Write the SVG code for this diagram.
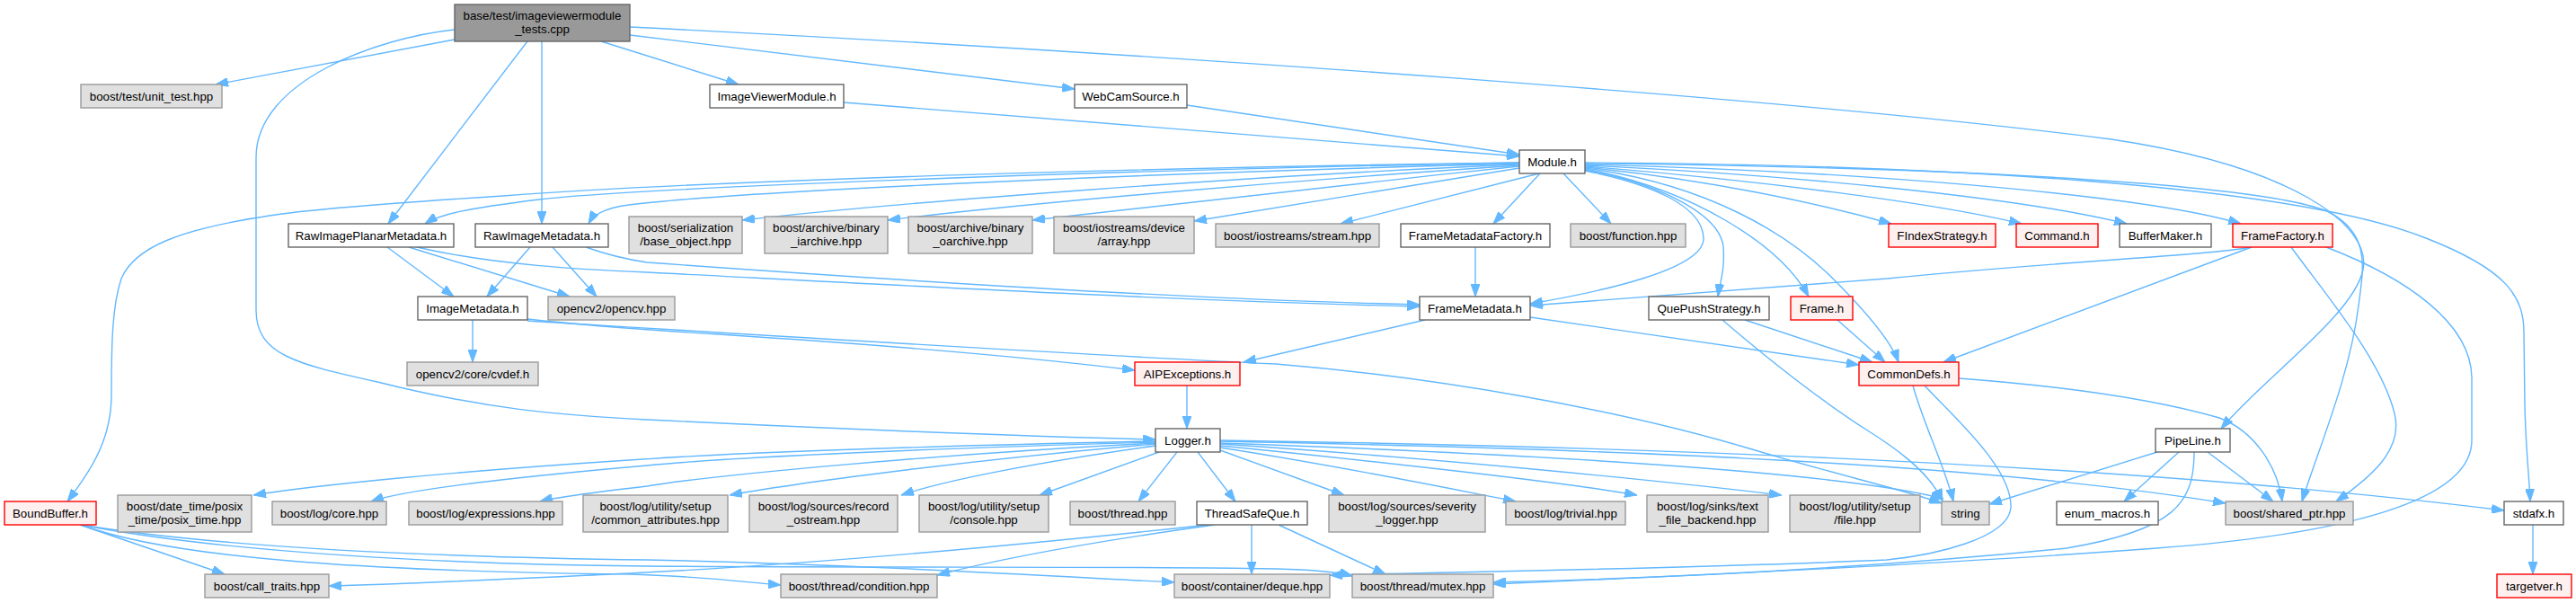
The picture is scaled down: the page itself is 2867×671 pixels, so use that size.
<svg xmlns="http://www.w3.org/2000/svg" width="2867" height="671" viewBox="0 0 2867 671">
<style>
rect{stroke-width:1.4}
.w{fill:#ffffff;stroke:#666666}
.g{fill:#e0e0e0;stroke:#999999}
.r{fill:#fff0f0;stroke:#ff0000}
.k{fill:#999999;stroke:#666666}
text{font-family:"Liberation Sans",Arial,sans-serif;font-size:13.3px;fill:#000;text-anchor:middle}
#edges path{fill:none;stroke:#63b8ff;stroke-width:1.4;marker-end:url(#ah)}
</style>
<defs>
<marker id="ah" markerUnits="userSpaceOnUse" markerWidth="14" markerHeight="10" viewBox="0 0 14 10" refX="14" refY="5" orient="auto">
<path d="M0,0 L14,5 L0,10 z" fill="#63b8ff" stroke="#63b8ff" stroke-width="1"/>
</marker>
</defs>
<rect x="0" y="0" width="2867" height="671" fill="#ffffff"/>
<g id="edges">
<path d="M506,44 L240,94"/>
<path d="M669,46 L822,94"/>
<path d="M701,39 L1196,99"/>
<path d="M587,46 L432,249"/>
<path d="M603,46 L603,249"/>
<path d="M506,33 C420,42 285,90 285,175 L285,345 C285,395 330,405 420,425 C540,455 620,462 720,467 C900,476 1150,486 1286,489"/>
<path d="M701,30 C1300,60 2000,110 2350,155 C2550,185 2640,250 2630,300 C2620,350 2520,420 2472,477"/>
<path d="M939,114 L1691,174"/>
<path d="M1321,117 L1691,172"/>
<path d="M1691,181 C1300,186 800,200 560,218 C450,225 350,232 300,240 C200,255 150,275 135,310 C125,340 124,380 124,440 C124,490 100,525 75,558"/>
<path d="M1691,181 C1200,190 700,210 600,222 C520,232 490,238 473,249"/>
<path d="M1691,182 C1200,195 800,215 700,228 C670,232 660,240 655,249"/>
<path d="M1691,183 C1400,195 1000,225 826,245"/>
<path d="M1691,184 C1450,200 1150,225 988,245"/>
<path d="M1691,185 C1500,205 1300,228 1149,245"/>
<path d="M1691,187 C1550,210 1420,232 1329,246"/>
<path d="M1713,193 L1492,249"/>
<path d="M1714,193 L1662,249"/>
<path d="M1740,193 L1793,249"/>
<path d="M1764,190 C1840,205 1895,230 1896,265 C1897,300 1780,325 1703,338"/>
<path d="M1764,189 C1850,205 1915,240 1918,275 C1920,300 1914,315 1912,330"/>
<path d="M1764,188 C1880,210 1980,270 2013,330"/>
<path d="M1764,187 C1900,205 1990,260 2040,310 C2080,350 2105,380 2113,403"/>
<path d="M1764,186 C1900,200 2020,225 2105,249"/>
<path d="M1764,185 C1950,200 2150,225 2250,249"/>
<path d="M1764,184 C2000,195 2250,220 2367,249"/>
<path d="M1764,183 C2050,190 2380,215 2494,249"/>
<path d="M1764,182 C2100,185 2500,200 2590,235 C2640,260 2630,300 2625,340 C2615,420 2580,500 2562,558"/>
<path d="M1764,181 C2150,183 2550,205 2700,265 C2790,300 2809,330 2809,370 L2810,450 C2811,500 2815,530 2816,558"/>
<path d="M2506,275 C2450,285 2300,290 2100,310 C1900,325 1780,333 1703,340"/>
<path d="M2506,275 L2163,403"/>
<path d="M2550,275 C2590,330 2650,400 2665,460 C2675,500 2640,530 2600,558"/>
<path d="M2589,275 C2680,310 2750,360 2751,420 L2751,490 C2751,560 2600,595 2400,610 C2200,625 1900,640 1662,650"/>
<path d="M2129,429 C2140,470 2165,520 2174,558"/>
<path d="M2180,421 C2300,430 2400,445 2470,465 C2510,480 2535,520 2540,558"/>
<path d="M2142,429 C2170,460 2240,520 2238,565 C2235,600 2150,618 2100,623 C1900,632 1650,636 1480,640"/>
<path d="M2401,503 L2214,561"/>
<path d="M2425,503 L2364,558"/>
<path d="M2457,503 L2530,558"/>
<path d="M2442,503 C2442,560 2420,590 2300,610 C2100,630 1900,642 1662,648"/>
<path d="M1942,356 L2084,403"/>
<path d="M1917,356 C1980,410 2030,448 2080,480 C2120,505 2150,530 2162,558"/>
<path d="M2045,356 L2098,403"/>
<path d="M1703,353 L2069,406"/>
<path d="M1586,356 L1384,403"/>
<path d="M1642,275 L1642,330"/>
<path d="M431,275 L505,330"/>
<path d="M455,275 L634,330"/>
<path d="M464,275 C550,295 650,300 720,303 C900,312 1300,335 1580,341"/>
<path d="M590,275 L542,330"/>
<path d="M615,275 L664,330"/>
<path d="M652,275 C680,285 700,289 720,292 C900,305 1300,333 1580,339"/>
<path d="M526,356 L526,403"/>
<path d="M587,355 C650,362 700,366 800,372 C1000,385 1150,398 1263,412"/>
<path d="M587,357 C800,370 1200,395 1420,405 C1600,420 1800,455 1950,500 C2050,530 2120,545 2161,560"/>
<path d="M1321,429 L1321,477"/>
<path d="M1286,491 C1000,497 800,505 700,512 C500,525 350,540 282,551"/>
<path d="M1286,492 C1000,500 800,510 720,518 C560,532 450,545 413,558"/>
<path d="M1286,493 C1050,505 800,528 720,541 C660,548 620,553 601,558"/>
<path d="M1286,494 C1100,510 900,535 812,551"/>
<path d="M1286,496 C1150,515 1050,535 1003,551"/>
<path d="M1290,503 L1157,551"/>
<path d="M1310,503 L1267,558"/>
<path d="M1333,503 L1375,558"/>
<path d="M1358,501 L1496,551"/>
<path d="M1358,498 C1500,520 1620,545 1687,558"/>
<path d="M1358,496 C1550,515 1750,538 1822,551"/>
<path d="M1358,494 C1600,510 1850,535 1983,551"/>
<path d="M1358,493 C1700,505 2050,525 2163,555"/>
<path d="M1358,491 C1800,500 2200,515 2477,560"/>
<path d="M1358,490 C1900,498 2400,520 2787,568"/>
<path d="M1352,584 C1200,605 1100,625 1043,640"/>
<path d="M1345,584 C1150,605 900,628 700,638 C550,645 450,650 366,652"/>
<path d="M1393,584 L1393,639"/>
<path d="M1423,584 L1542,639"/>
<path d="M89,584 C150,605 210,625 250,639"/>
<path d="M90,584 C200,625 450,636 700,639 C780,641 830,648 869,651"/>
<path d="M90,584 C250,610 500,620 720,623 C950,628 1150,640 1307,648"/>
<path d="M90,584 C250,615 500,628 720,630 C1000,632 1300,630 1420,633 C1460,634 1490,637 1505,641"/>
<path d="M2819,584 L2819,639"/>
</g>
<g id="n_root"><rect class="k" x="506" y="5" width="195" height="41"/><text x="603.5" y="22">base/test/imageviewermodule</text><text x="603.5" y="37">_tests.cpp</text></g>
<g id="n_unit_test"><rect class="g" x="90" y="94" width="157" height="26"/><text x="168.5" y="112">boost/test/unit_test.hpp</text></g>
<g id="n_imageviewermodule"><rect class="w" x="790" y="94" width="149" height="26"/><text x="864.5" y="112">ImageViewerModule.h</text></g>
<g id="n_webcamsource"><rect class="w" x="1196" y="94" width="125" height="26"/><text x="1258.5" y="112">WebCamSource.h</text></g>
<g id="n_module"><rect class="w" x="1691" y="167" width="73" height="26"/><text x="1727.5" y="185">Module.h</text></g>
<g id="n_rawimageplanar"><rect class="w" x="321" y="249" width="184" height="26"/><text x="413" y="267">RawImagePlanarMetadata.h</text></g>
<g id="n_rawimage"><rect class="w" x="529" y="249" width="148" height="26"/><text x="603" y="267">RawImageMetadata.h</text></g>
<g id="n_base_object"><rect class="g" x="700" y="241" width="126" height="41"/><text x="763" y="258">boost/serialization</text><text x="763" y="273">/base_object.hpp</text></g>
<g id="n_iarchive"><rect class="g" x="851" y="241" width="137" height="41"/><text x="919.5" y="258">boost/archive/binary</text><text x="919.5" y="273">_iarchive.hpp</text></g>
<g id="n_oarchive"><rect class="g" x="1011" y="241" width="138" height="41"/><text x="1080" y="258">boost/archive/binary</text><text x="1080" y="273">_oarchive.hpp</text></g>
<g id="n_array"><rect class="g" x="1173" y="241" width="156" height="41"/><text x="1251" y="258">boost/iostreams/device</text><text x="1251" y="273">/array.hpp</text></g>
<g id="n_stream"><rect class="g" x="1353" y="249" width="182" height="26"/><text x="1444" y="267">boost/iostreams/stream.hpp</text></g>
<g id="n_framemetadatafactory"><rect class="w" x="1559" y="249" width="166" height="26"/><text x="1642" y="267">FrameMetadataFactory.h</text></g>
<g id="n_function"><rect class="g" x="1748" y="249" width="128" height="26"/><text x="1812" y="267">boost/function.hpp</text></g>
<g id="n_findexstrategy"><rect class="r" x="2102" y="249" width="119" height="26"/><text x="2161.5" y="267">FIndexStrategy.h</text></g>
<g id="n_command"><rect class="r" x="2244" y="249" width="91" height="26"/><text x="2289.5" y="267">Command.h</text></g>
<g id="n_buffermaker"><rect class="w" x="2359" y="249" width="102" height="26"/><text x="2410" y="267">BufferMaker.h</text></g>
<g id="n_framefactory"><rect class="r" x="2485" y="249" width="111" height="26"/><text x="2540.5" y="267">FrameFactory.h</text></g>
<g id="n_imagemetadata"><rect class="w" x="465" y="330" width="122" height="26"/><text x="526" y="348">ImageMetadata.h</text></g>
<g id="n_opencv"><rect class="g" x="610" y="330" width="141" height="26"/><text x="680.5" y="348">opencv2/opencv.hpp</text></g>
<g id="n_framemetadata"><rect class="w" x="1580" y="330" width="123" height="26"/><text x="1641.5" y="348">FrameMetadata.h</text></g>
<g id="n_quepushstrategy"><rect class="w" x="1835" y="330" width="134" height="26"/><text x="1902" y="348">QuePushStrategy.h</text></g>
<g id="n_frame"><rect class="r" x="1993" y="330" width="69" height="26"/><text x="2027.5" y="348">Frame.h</text></g>
<g id="n_cvdef"><rect class="g" x="453" y="403" width="146" height="26"/><text x="526" y="421">opencv2/core/cvdef.h</text></g>
<g id="n_aipexceptions"><rect class="r" x="1263" y="403" width="117" height="26"/><text x="1321.5" y="421">AIPExceptions.h</text></g>
<g id="n_commondefs"><rect class="r" x="2069" y="403" width="111" height="26"/><text x="2124.5" y="421">CommonDefs.h</text></g>
<g id="n_logger"><rect class="w" x="1286" y="477" width="72" height="26"/><text x="1322" y="495">Logger.h</text></g>
<g id="n_pipeline"><rect class="w" x="2399" y="477" width="83" height="26"/><text x="2440.5" y="495">PipeLine.h</text></g>
<g id="n_boundbuffer"><rect class="r" x="5" y="558" width="102" height="26"/><text x="56" y="576">BoundBuffer.h</text></g>
<g id="n_posix_time"><rect class="g" x="131" y="551" width="149" height="41"/><text x="205.5" y="568">boost/date_time/posix</text><text x="205.5" y="583">_time/posix_time.hpp</text></g>
<g id="n_log_core"><rect class="g" x="303" y="558" width="127" height="26"/><text x="366.5" y="576">boost/log/core.hpp</text></g>
<g id="n_expressions"><rect class="g" x="455" y="558" width="171" height="26"/><text x="540.5" y="576">boost/log/expressions.hpp</text></g>
<g id="n_common_attributes"><rect class="g" x="649" y="551" width="161" height="41"/><text x="729.5" y="568">boost/log/utility/setup</text><text x="729.5" y="583">/common_attributes.hpp</text></g>
<g id="n_record_ostream"><rect class="g" x="834" y="551" width="165" height="41"/><text x="916.5" y="568">boost/log/sources/record</text><text x="916.5" y="583">_ostream.hpp</text></g>
<g id="n_console"><rect class="g" x="1023" y="551" width="144" height="41"/><text x="1095" y="568">boost/log/utility/setup</text><text x="1095" y="583">/console.hpp</text></g>
<g id="n_thread"><rect class="g" x="1191" y="558" width="117" height="26"/><text x="1249.5" y="576">boost/thread.hpp</text></g>
<g id="n_threadsafeque"><rect class="w" x="1332" y="558" width="123" height="26"/><text x="1393.5" y="576">ThreadSafeQue.h</text></g>
<g id="n_severity_logger"><rect class="g" x="1479" y="551" width="174" height="41"/><text x="1566" y="568">boost/log/sources/severity</text><text x="1566" y="583">_logger.hpp</text></g>
<g id="n_trivial"><rect class="g" x="1676" y="558" width="133" height="26"/><text x="1742.5" y="576">boost/log/trivial.hpp</text></g>
<g id="n_text_file_backend"><rect class="g" x="1833" y="551" width="135" height="41"/><text x="1900.5" y="568">boost/log/sinks/text</text><text x="1900.5" y="583">_file_backend.hpp</text></g>
<g id="n_setup_file"><rect class="g" x="1992" y="551" width="145" height="41"/><text x="2064.5" y="568">boost/log/utility/setup</text><text x="2064.5" y="583">/file.hpp</text></g>
<g id="n_string"><rect class="g" x="2161" y="558" width="53" height="26"/><text x="2187.5" y="576">string</text></g>
<g id="n_enum_macros"><rect class="w" x="2289" y="558" width="113" height="26"/><text x="2345.5" y="576">enum_macros.h</text></g>
<g id="n_shared_ptr"><rect class="g" x="2477" y="558" width="142" height="26"/><text x="2548" y="576">boost/shared_ptr.hpp</text></g>
<g id="n_stdafx"><rect class="w" x="2787" y="558" width="66" height="26"/><text x="2820" y="576">stdafx.h</text></g>
<g id="n_call_traits"><rect class="g" x="228" y="639" width="138" height="26"/><text x="297" y="657">boost/call_traits.hpp</text></g>
<g id="n_condition"><rect class="g" x="869" y="639" width="174" height="26"/><text x="956" y="657">boost/thread/condition.hpp</text></g>
<g id="n_deque"><rect class="g" x="1307" y="639" width="173" height="26"/><text x="1393.5" y="657">boost/container/deque.hpp</text></g>
<g id="n_mutex"><rect class="g" x="1505" y="639" width="157" height="26"/><text x="1583.5" y="657">boost/thread/mutex.hpp</text></g>
<g id="n_targetver"><rect class="r" x="2779" y="639" width="83" height="26"/><text x="2820.5" y="657">targetver.h</text></g>
</svg>
